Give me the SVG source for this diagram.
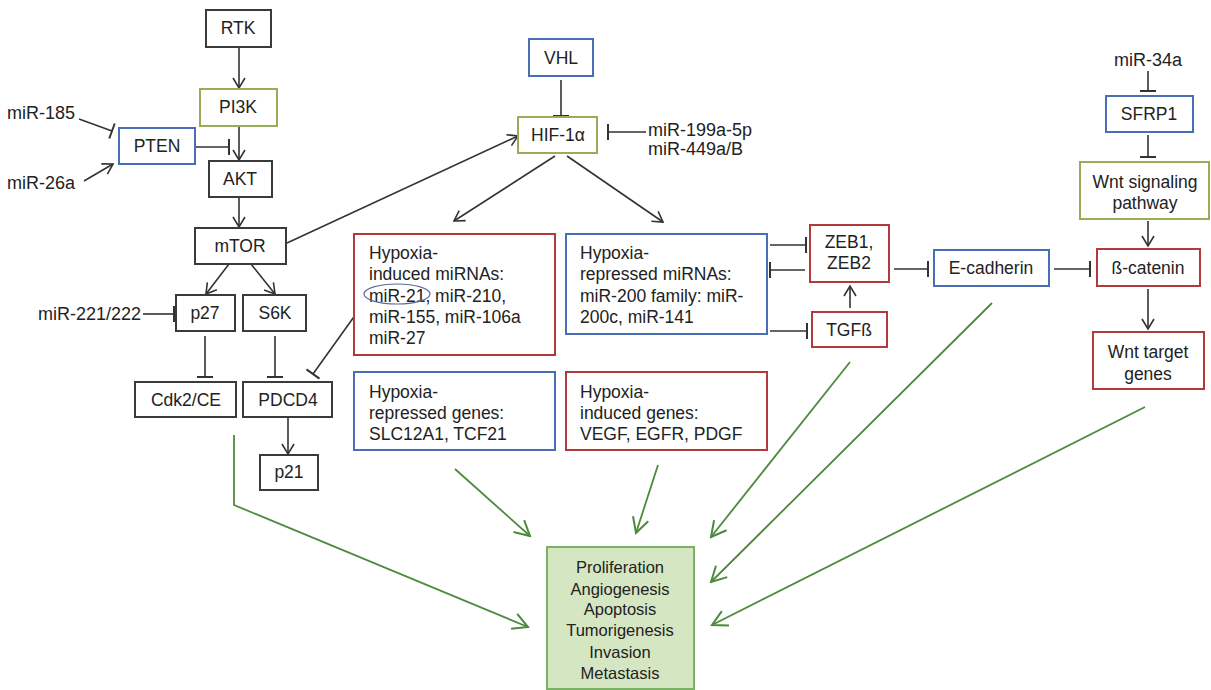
<svg xmlns="http://www.w3.org/2000/svg" width="1211" height="690" viewBox="0 0 1211 690">
<defs>
<style>
text{font-family:"Liberation Sans",Arial,sans-serif;font-size:17.5px;fill:#222}
.c{text-anchor:middle}
.lb{font-size:18px}
.o{font-size:16.5px}
.box{fill:#fff;stroke-width:2}
.k{stroke:#3a3a3a}
.r{stroke:#b2393c}
.b{stroke:#4a6db8}
.g{stroke:#98ad58}
.ln{fill:none;stroke:#333;stroke-width:1.6}
.gl{fill:none;stroke:#4c8a3c;stroke-width:1.8}
</style>
<marker id="arr" viewBox="-12 -8 14 16" refX="0" refY="0" markerWidth="14" markerHeight="16" markerUnits="userSpaceOnUse" orient="auto"><path d="M-10,-6L0,0L-10,6" fill="none" stroke="#333" stroke-width="1.6"/></marker>
<marker id="bar" viewBox="-2 -9 4 18" refX="0" refY="0" markerWidth="4" markerHeight="18" markerUnits="userSpaceOnUse" orient="auto"><path d="M0,-8V8" fill="none" stroke="#333" stroke-width="2"/></marker>
<marker id="garr" viewBox="-17 -10 19 20" refX="0" refY="0" markerWidth="19" markerHeight="20" markerUnits="userSpaceOnUse" orient="auto"><path d="M-15,-8L0,0L-15,8" fill="none" stroke="#4c8a3c" stroke-width="2"/></marker>
</defs>
<rect width="1211" height="690" fill="#fff"/>

<g id="connectors">
<line class="ln" x1="239" y1="47" x2="239" y2="88" marker-end="url(#arr)"/>
<line class="ln" x1="239" y1="126" x2="239" y2="160" marker-end="url(#arr)"/>
<line class="ln" x1="79" y1="119" x2="112" y2="131" marker-end="url(#bar)"/>
<line class="ln" x1="84" y1="181" x2="113" y2="164" marker-end="url(#arr)"/>
<line class="ln" x1="195" y1="147" x2="229" y2="147" marker-end="url(#bar)"/>
<line class="ln" x1="239" y1="197" x2="239" y2="227" marker-end="url(#arr)"/>
<line class="ln" x1="287" y1="243" x2="518" y2="136" marker-end="url(#arr)"/>
<line class="ln" x1="229" y1="264" x2="206" y2="294" marker-end="url(#arr)"/>
<line class="ln" x1="251" y1="264" x2="275" y2="294" marker-end="url(#arr)"/>
<line class="ln" x1="143" y1="314" x2="174" y2="314" marker-end="url(#bar)"/>
<line class="ln" x1="205" y1="336" x2="205" y2="377" marker-end="url(#bar)"/>
<line class="ln" x1="275" y1="336" x2="275" y2="377" marker-end="url(#bar)"/>
<line class="ln" x1="366" y1="300" x2="313" y2="374" marker-end="url(#bar)"/>
<line class="ln" x1="288" y1="417" x2="288" y2="454" marker-end="url(#arr)"/>
<line class="ln" x1="561" y1="80" x2="561" y2="116" marker-end="url(#bar)"/>
<line class="ln" x1="646" y1="132" x2="608" y2="132" marker-end="url(#bar)"/>
<line class="ln" x1="555" y1="156" x2="454" y2="221" marker-end="url(#arr)"/>
<line class="ln" x1="567" y1="156" x2="663" y2="222" marker-end="url(#arr)"/>
<line class="ln" x1="770" y1="245" x2="806" y2="245" marker-end="url(#bar)"/>
<line class="ln" x1="805" y1="270" x2="770" y2="270" marker-end="url(#bar)"/>
<line class="ln" x1="770" y1="331" x2="807" y2="331" marker-end="url(#bar)"/>
<line class="ln" x1="850" y1="308" x2="850" y2="286" marker-end="url(#arr)"/>
<line class="ln" x1="894" y1="269" x2="928" y2="269" marker-end="url(#bar)"/>
<line class="ln" x1="1054" y1="269" x2="1090" y2="269" marker-end="url(#bar)"/>
<line class="ln" x1="1148" y1="71" x2="1148" y2="91" marker-end="url(#bar)"/>
<line class="ln" x1="1148" y1="135" x2="1148" y2="157" marker-end="url(#bar)"/>
<line class="ln" x1="1148" y1="221" x2="1148" y2="246" marker-end="url(#arr)"/>
<line class="ln" x1="1148" y1="289" x2="1148" y2="329" marker-end="url(#arr)"/>
<polyline class="gl" points="234,435 234,505 528,627" marker-end="url(#garr)"/>
<line class="gl" x1="455" y1="469" x2="530" y2="536" marker-end="url(#garr)"/>
<line class="gl" x1="658" y1="465" x2="636" y2="533" marker-end="url(#garr)"/>
<line class="gl" x1="850" y1="362" x2="711" y2="537" marker-end="url(#garr)"/>
<line class="gl" x1="992" y1="303" x2="711" y2="582" marker-end="url(#garr)"/>
<line class="gl" x1="1145" y1="407" x2="712" y2="625" marker-end="url(#garr)"/>
</g>

<g id="labels">
<text class="lb" x="7" y="119">miR-185</text>
<text class="lb" x="7" y="189">miR-26a</text>
<text class="lb" x="38" y="320">miR-221/222</text>
<text class="lb" x="648" y="136">miR-199a-5p</text>
<text class="lb" x="648" y="155">miR-449a/B</text>
<text class="c lb" x="1148" y="66">miR-34a</text>
</g>

<g id="RTK"><rect class="box k" x="206" y="10" width="65" height="37"/><text class="c" x="238" y="34">RTK</text></g>
<g id="PI3K"><rect class="box g" x="200" y="89" width="77" height="37"/><text class="c" x="238" y="113">PI3K</text></g>
<g id="PTEN"><rect class="box b" x="119" y="128" width="76" height="36"/><text class="c" x="157" y="152">PTEN</text></g>
<g id="AKT"><rect class="box k" x="209" y="161" width="63" height="36"/><text class="c" x="240" y="185">AKT</text></g>
<g id="mTOR"><rect class="box k" x="195" y="228" width="91" height="36"/><text class="c" x="240" y="252">mTOR</text></g>
<g id="p27"><rect class="box k" x="176" y="295" width="59" height="36"/><text class="c" x="205" y="319">p27</text></g>
<g id="S6K"><rect class="box k" x="243" y="295" width="63" height="36"/><text class="c" x="275" y="319">S6K</text></g>
<g id="Cdk2CE"><rect class="box k" x="135" y="382" width="101" height="35"/><text class="c" x="186" y="406">Cdk2/CE</text></g>
<g id="PDCD4"><rect class="box k" x="243" y="382" width="89" height="35"/><text class="c" x="288" y="406">PDCD4</text></g>
<g id="p21"><rect class="box k" x="260" y="455" width="58" height="35"/><text class="c" x="289" y="478">p21</text></g>

<g id="VHL"><rect class="box b" x="529" y="39" width="64" height="37"/><text class="c" x="561" y="64">VHL</text></g>
<g id="HIF1a"><rect class="box g" x="518" y="117" width="79" height="36"/><text class="c" x="558" y="141">HIF-1α</text></g>

<g id="hyp-ind-mirna"><rect class="box r" x="354" y="234" width="201" height="121"/>
<text x="369" y="259">Hypoxia-</text><text x="369" y="280">induced miRNAs:</text><text x="369" y="302">miR-21, miR-210,</text><text x="369" y="323">miR-155, miR-106a</text><text x="369" y="344">miR-27</text>
<ellipse cx="397" cy="294" rx="33" ry="10" fill="none" stroke="#5b6a9c" stroke-width="1.2"/></g>
<g id="hyp-rep-mirna"><rect class="box b" x="566" y="234" width="201" height="100"/>
<text x="580" y="259">Hypoxia-</text><text x="580" y="280">repressed miRNAs:</text><text x="580" y="302">miR-200 family: miR-</text><text x="580" y="323">200c, miR-141</text></g>
<g id="hyp-rep-genes"><rect class="box b" x="354" y="372" width="201" height="78"/>
<text x="369" y="398">Hypoxia-</text><text x="369" y="419">repressed genes:</text><text x="369" y="440">SLC12A1, TCF21</text></g>
<g id="hyp-ind-genes"><rect class="box r" x="566" y="372" width="201" height="78"/>
<text x="580" y="398">Hypoxia-</text><text x="580" y="419">induced genes:</text><text x="580" y="440">VEGF, EGFR, PDGF</text></g>

<g id="ZEB"><rect class="box r" x="810" y="225" width="79" height="57"/><text class="c" x="849" y="248">ZEB1,</text><text class="c" x="849" y="269">ZEB2</text></g>
<g id="TGFb"><rect class="box r" x="812" y="312" width="75" height="35"/><text class="c" x="849" y="336">TGFß</text></g>
<g id="Ecadherin"><rect class="box b" x="934" y="250" width="115" height="36"/><text class="c" x="991" y="274">E-cadherin</text></g>
<g id="bcatenin"><rect class="box r" x="1097" y="249" width="103" height="37"/><text class="c" x="1148" y="274">ß-catenin</text></g>
<g id="SFRP1"><rect class="box b" x="1106" y="96" width="87" height="36"/><text class="c" x="1149" y="120">SFRP1</text></g>
<g id="Wnt"><rect class="box g" x="1080" y="162" width="129" height="57"/><text class="c" x="1145" y="188">Wnt signaling</text><text class="c" x="1145" y="209">pathway</text></g>
<g id="WntTarget"><rect class="box r" x="1093" y="332" width="111" height="57"/><text class="c" x="1148" y="358">Wnt target</text><text class="c" x="1148" y="380">genes</text></g>

<g id="outcome"><rect x="547" y="547" width="147" height="142" fill="#d5e6c2" stroke="#79b263" stroke-width="2"/>
<text class="c o" x="620" y="573">Proliferation</text><text class="c o" x="620" y="595">Angiogenesis</text><text class="c o" x="620" y="615">Apoptosis</text><text class="c o" x="620" y="636">Tumorigenesis</text><text class="c o" x="620" y="658">Invasion</text><text class="c o" x="620" y="679">Metastasis</text></g>
</svg>
